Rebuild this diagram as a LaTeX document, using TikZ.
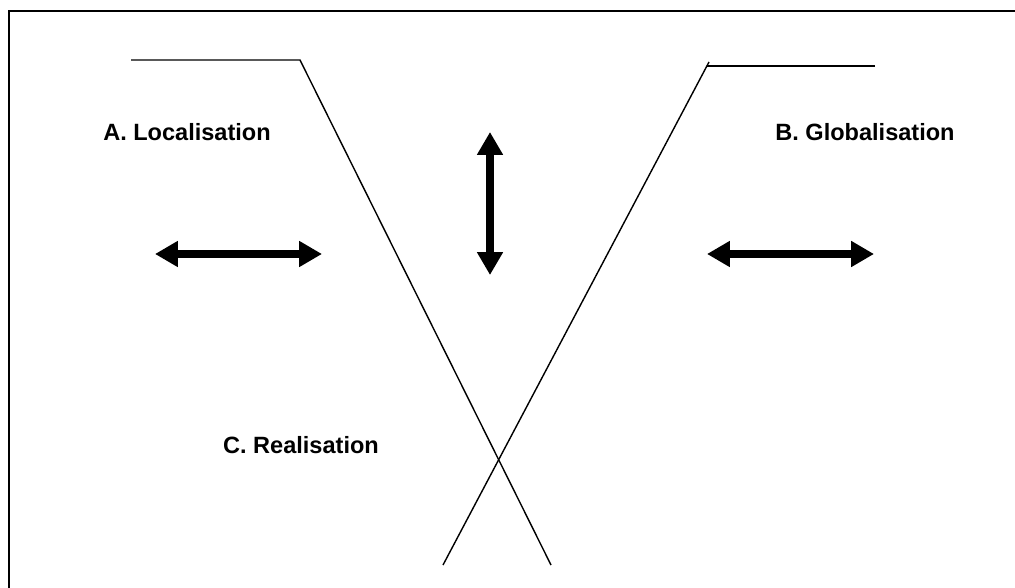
\documentclass[tikz,border=0pt]{standalone}
\usepackage{fontspec}
\setsansfont{Liberation Sans}
\usetikzlibrary{arrows.meta}

\begin{document}
\begin{tikzpicture}[x=0.02cm,y=-0.02cm,>={Triangle[length=13pt,width=14pt]},font=\sffamily\bfseries\fontsize{13.4}{16}\selectfont]
\tikzstyle{lbl}=[inner sep=0pt,anchor=base]
\tikzstyle{funnel}=[line width=0.8pt]
\tikzstyle{twoway}=[<->,line width=4pt]
\useasboundingbox (0,0) rectangle (1015,588);
\begin{scope}
\clip (0,0) rectangle (1015,588);
\draw[line width=1.1pt] (9,11) rectangle (1040,620);
\end{scope}
% funnel lines
\coordinate (la) at (131,60); \coordinate (lb) at (300,60); \coordinate (lc) at (551,565);
\coordinate (ra) at (875,66); \coordinate (rb) at (707,66); \coordinate (rt) at (709,62); \coordinate (rc) at (443,565);
\draw[funnel] (la) -- (lb) -- (lc);
\draw[funnel] (ra) -- (rb);
\draw[funnel] (rt) -- (rc);
% arrows
\coordinate (al) at (155,254); \coordinate (ar) at (322,254);
\coordinate (vt) at (490,132); \coordinate (vb) at (490,275);
\coordinate (bl) at (707,254); \coordinate (br) at (874,254);
\draw[twoway] (al) -- (ar);
\draw[twoway] (vt) -- (vb);
\draw[twoway] (bl) -- (br);
% labels
\node[lbl] (loc) at (187,141) {A. Localisation};
\node[lbl] (glob) at (865,141) {B. Globalisation};
\node[lbl] (real) at (301,453) {C. Realisation};
\end{tikzpicture}
\end{document}
